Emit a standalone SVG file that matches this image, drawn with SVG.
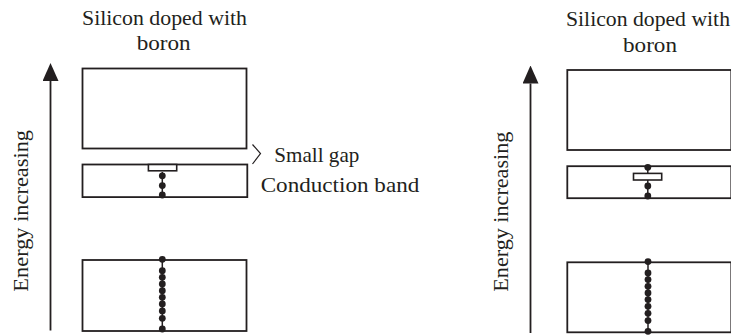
<svg xmlns="http://www.w3.org/2000/svg" width="731" height="336" viewBox="0 0 731 336">
<style>
text{font-family:"Liberation Serif","Times New Roman",serif;font-size:21.7px;fill:#231f20}
.band{fill:#fff;stroke:#231f20;stroke-width:1.8}
.gapbox{fill:#fff;stroke:#231f20;stroke-width:1.6}
.axis{stroke:#231f20;stroke-width:1.8;fill:none}
.chev{stroke:#231f20;stroke-width:1.2;fill:none}
.e{fill:#231f20}
.chain{stroke:#231f20;stroke-width:1.5}
</style>
<defs>
<marker id="ah" viewBox="0 0 18 16" refX="0" refY="8" markerWidth="18" markerHeight="16" markerUnits="userSpaceOnUse" orient="auto">
<path d="M0,0 L18,8 L0,16 Z" fill="#231f20"/>
</marker>
<g id="bottomDots">
<line class="chain" x1="0" y1="-0.7" x2="0" y2="69"/>
<circle class="e" cx="0" cy="-0.7" r="3.4"/>
<circle class="e" cx="0" cy="10.7" r="3.4"/>
<circle class="e" cx="0" cy="17.3" r="3.4"/>
<circle class="e" cx="0" cy="24" r="3.4"/>
<circle class="e" cx="0" cy="30.7" r="3.4"/>
<circle class="e" cx="0" cy="37.3" r="3.4"/>
<circle class="e" cx="0" cy="44" r="3.4"/>
<circle class="e" cx="0" cy="51" r="3.4"/>
<circle class="e" cx="0" cy="58.3" r="3.4"/>
<circle class="e" cx="0" cy="69" r="3.4"/>
</g>
</defs>

<!-- Left panel -->
<g id="left-title">
<text x="164.5" y="25.3" text-anchor="middle" textLength="165" lengthAdjust="spacingAndGlyphs">Silicon doped with</text>
<text x="163.7" y="50" text-anchor="middle" textLength="54" lengthAdjust="spacingAndGlyphs">boron</text>
</g>
<g id="left-axis-label">
<text transform="translate(28.3,210.8) rotate(-90)" text-anchor="middle" textLength="161.7" lengthAdjust="spacingAndGlyphs">Energy increasing</text>
</g>
<g id="left-upper-band">
<rect class="band" x="82.5" y="68.5" width="164" height="80"/>
</g>
<g id="left-conduction-band">
<rect class="band" x="82.5" y="164.5" width="164.8" height="32.6"/>
<rect class="gapbox" x="148.4" y="164.5" width="28.3" height="6.3"/>
<line class="chain" x1="162.3" y1="172" x2="162.3" y2="195"/>
<circle class="e" cx="162.3" cy="175.8" r="3.4"/>
<circle class="e" cx="162.3" cy="185.6" r="3.4"/>
<circle class="e" cx="162.3" cy="195" r="3.4"/>
</g>
<g id="left-valence-band">
<rect class="band" x="82.5" y="260" width="164" height="71"/>
<use href="#bottomDots" x="162.3" y="260"/>
</g>
<g id="left-small-gap-label">
<text x="274.3" y="162.3" textLength="85" lengthAdjust="spacingAndGlyphs">Small gap</text>
</g>
<g id="left-conduction-label">
<text x="260.7" y="192.3" textLength="158.6" lengthAdjust="spacingAndGlyphs">Conduction band</text>
</g>

<!-- Right panel -->
<g id="right-title">
<text x="648" y="26.3" text-anchor="middle" textLength="164" lengthAdjust="spacingAndGlyphs">Silicon doped with</text>
<text x="650" y="52.2" text-anchor="middle" textLength="54" lengthAdjust="spacingAndGlyphs">boron</text>
</g>
<g id="right-axis-label">
<text transform="translate(508.3,211.7) rotate(-90)" text-anchor="middle" textLength="160" lengthAdjust="spacingAndGlyphs">Energy increasing</text>
</g>
<g id="right-upper-band">
<rect class="band" x="567.3" y="70" width="164" height="80"/>
</g>
<g id="right-conduction-band">
<rect class="band" x="567.3" y="166.2" width="164" height="32"/>
<line class="chain" x1="647.8" y1="167.5" x2="647.8" y2="196.5"/>
<rect class="gapbox" x="633.5" y="173.4" width="28.2" height="6.6"/>
<circle class="e" cx="647.8" cy="167.3" r="3.4"/>
<circle class="e" cx="647.8" cy="186" r="3.4"/>
<circle class="e" cx="647.8" cy="196" r="3.4"/>
</g>
<g id="right-valence-band">
<rect class="band" x="567.3" y="262.3" width="164" height="70"/>
<use href="#bottomDots" x="648" y="262.3"/>
</g>

<!-- Connectors -->
<g id="connectors">
<line class="axis" x1="50.5" y1="330.5" x2="50.5" y2="81" marker-end="url(#ah)"/>
<line class="axis" x1="530.5" y1="333" x2="530.5" y2="83.5" marker-end="url(#ah)"/>
<polyline class="chev" points="252.5,144.5 260.5,153.5 252.5,164"/>
</g>
</svg>
